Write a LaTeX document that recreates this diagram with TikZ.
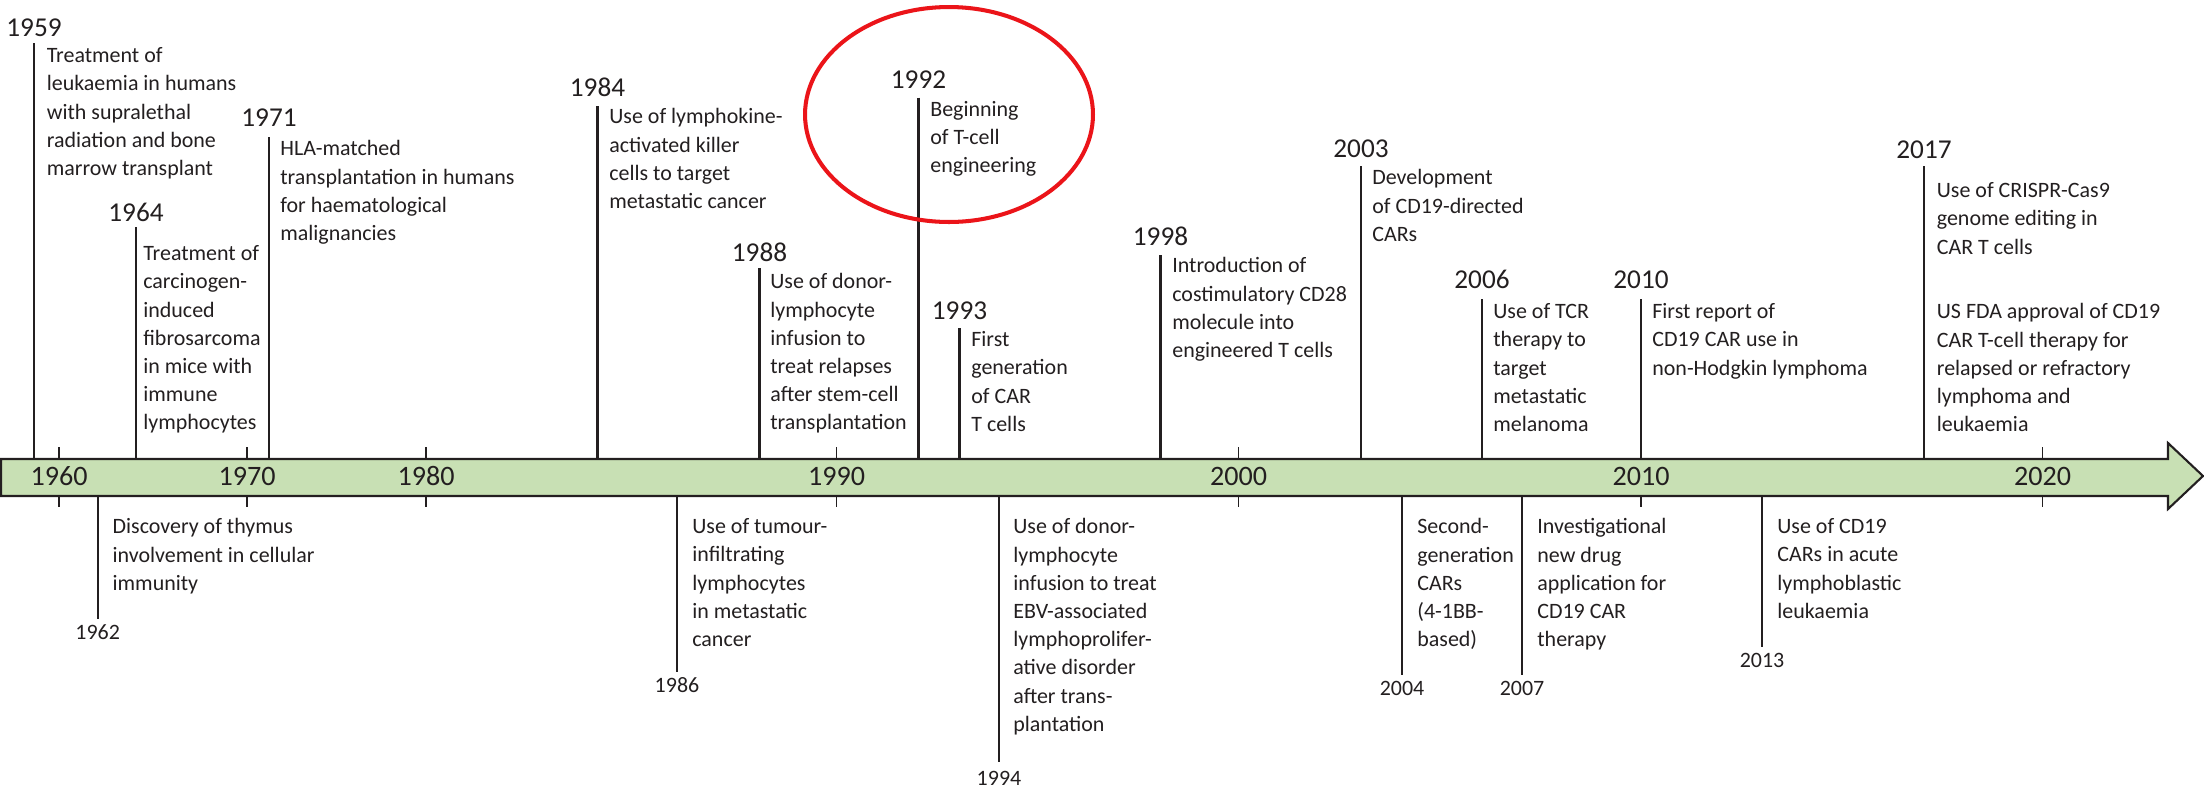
\documentclass[tikz,border=0pt]{standalone}
\usepackage{fontspec}
\setmainfont{Carlito}
\usetikzlibrary{shapes.geometric}

\definecolor{inkgray}{RGB}{35,31,32}
\definecolor{bargreen}{RGB}{200,224,180}
\definecolor{markred}{RGB}{235,20,25}
\newcommand\evfont{\fontsize{12.5}{16.05}\selectfont}

\begin{document}
\begin{tikzpicture}[
    x=0.02cm, y=-0.02cm,
    every node/.style={text=inkgray, inner sep=0pt},
    event line/.style={draw=inkgray, line width=1.3pt},
    tick line/.style={draw=inkgray, line width=1.1pt},
    event text/.style={anchor=north west, align=left, font=\evfont, yshift=11.24pt, execute at begin node=\strut},
    top year/.style={anchor=base, font=\fontsize{15.5}{18}\selectfont},
    low year/.style={anchor=base, font=\evfont},
    axis label/.style={anchor=base, font=\fontsize{16}{18}\selectfont},
    time bar/.style={draw=inkgray, fill=bargreen, line width=1.2pt, line join=miter},
    highlight/.style={ellipse, draw=markred, line width=2.3pt}
]
\useasboundingbox (0,0) rectangle (2204,789);

% Time axis
\coordinate (bartop) at (0,459);
\coordinate (barbot) at (0,496);
\draw[time bar] (1,459) -- (2168,459) -- (2168,443) -- (2203,476)
    -- (2168,509) -- (2168,496) -- (1,496) -- cycle;

% Decade ticks
\foreach \x/\lab in {59/1960,247/1970,426/1980,836.5/1990,1238.5/2000,1641/2010,2042.5/2020} {
    \node[axis label] (axis\lab) at (\x,485) {\lab};
    \draw[tick line] (axis\lab |- bartop) -- +(0,-12);
    \draw[tick line] (axis\lab |- barbot) -- +(0,11);
}

% Events above the axis
\foreach \x/\yb/\top/\tx/\tb/\yr/\txt in {
    34/36/43/46.5/67/1959/{Treatment of\\leukaemia in humans\\with supralethal\\radiation and bone\\marrow transplant},
    136/221.7/227/143/265/1964/{Treatment of\\carcinogen-\\induced\\fibrosarcoma\\in mice with\\immune\\lymphocytes},
    269/126.7/137/280/160/1971/{HLA-matched\\transplantation in humans\\for haematological\\malignancies},
    597.5/96/106/609/128/1984/{Use of lymphokine-\\activated killer\\cells to target\\metastatic cancer},
    759.5/261/268/770/293/1988/{Use of donor-\\lymphocyte\\infusion to\\treat relapses\\after stem-cell\\transplantation},
    918.5/88/97.7/930/120.7/1992/{Beginning\\of T-cell\\engineering},
    959.5/319/328/971/351/1993/{First\\generation\\of CAR\\T cells},
    1160.5/245/255/1172/277/1998/{Introduction of\\costimulatory CD28\\molecule into\\engineered T cells},
    1361/157/166/1372/189/2003/{Development\\of CD19-directed\\CARs},
    1482/288/299/1493/323/2006/{Use of TCR\\therapy to\\target\\metastatic\\melanoma},
    1641/288/299/1652/323/2010/{First report of\\CD19 CAR use in\\non-Hodgkin lymphoma},
    1924/158/166/1936.5/202/2017/{Use of CRISPR-Cas9\\genome editing in\\CAR T cells}} {
    \node[top year] (year\yr) at (\x,\yb) {\yr};
    \coordinate (top\yr) at (\x,\top);
    \draw[event line] (top\yr) -- (top\yr |- bartop);
    \node[event text] (text\yr) at (\tx,\tb) {\txt};
}
\node[event text] (text2017b) at (1936.5,323) {US FDA approval of CD19\\CAR T-cell therapy for\\relapsed or refractory\\lymphoma and\\leukaemia};

% Events below the axis
\foreach \x/\bot/\tx/\yb/\yr/\txt in {
    97.7/619/112.3/639/1962/{Discovery of thymus\\involvement in cellular\\immunity},
    677/672/692/692/1986/{Use of tumour-\\infiltrating\\lymphocytes\\in metastatic\\cancer},
    999/762/1013/785/1994/{Use of donor-\\lymphocyte\\infusion to treat\\EBV-associated\\lymphoprolifer-\\ative disorder\\after trans-\\plantation},
    1402/675/1417/695/2004/{Second-\\generation\\CARs\\(4-1BB-\\based)},
    1522/675/1537/695/2007/{Investigational\\new drug\\application for\\CD19 CAR\\therapy},
    1762/647/1777/667/2013/{Use of CD19\\CARs in acute\\lymphoblastic\\leukaemia}} {
    \node[low year] (year\yr) at (\x,\yb) {\yr};
    \coordinate (bot\yr) at (\x,\bot);
    \draw[event line] (bot\yr |- barbot) -- (bot\yr);
    \node[event text] (text\yr) at (\tx,538) {\txt};
}

% Highlight of 1992
\node[highlight, minimum width=5.76cm, minimum height=4.3cm] (mark1992) at (949,114.5) {};

\end{tikzpicture}
\end{document}
